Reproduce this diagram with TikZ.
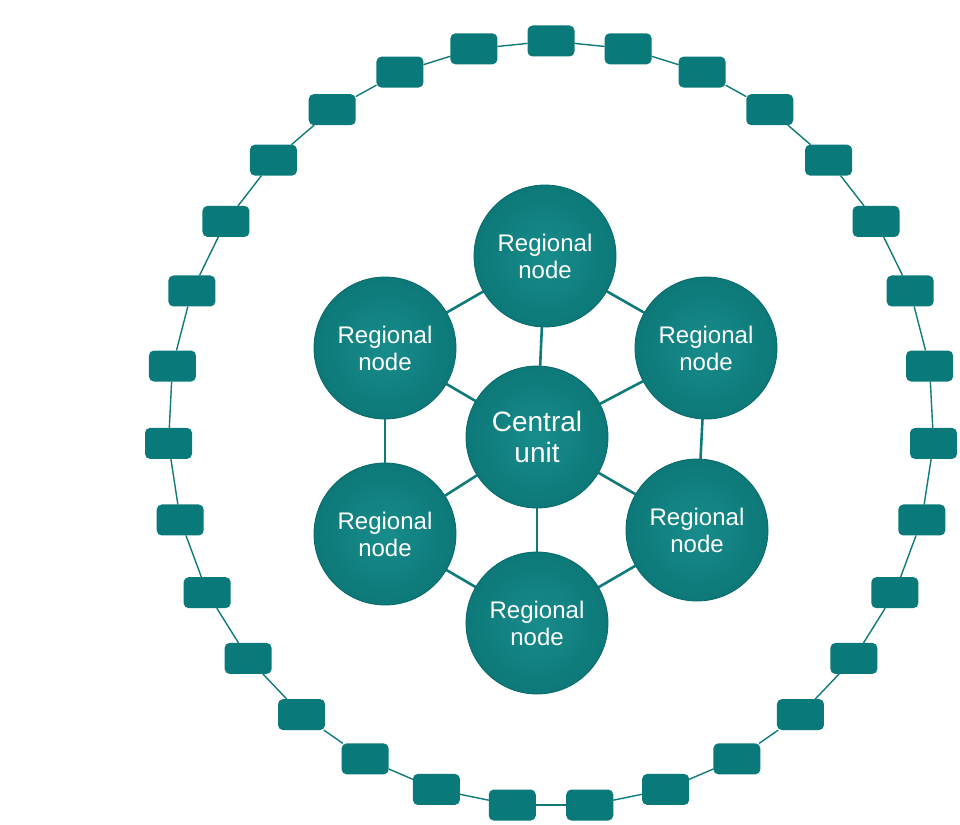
\documentclass[tikz,border=0pt]{standalone}
\usepackage{fontspec}
\setmainfont{Liberation Sans}
\usetikzlibrary{calc}

\definecolor{tealbox}{RGB}{9,121,121}
\definecolor{tealline}{RGB}{14,122,122}
\definecolor{tealin}{RGB}{24,140,140}
\definecolor{tealout}{RGB}{13,120,120}
\definecolor{tealrim}{RGB}{8,104,104}

\begin{document}
\begin{tikzpicture}[x=1pt, y=-1pt, inner sep=0pt, outer sep=0pt,
    hub/.style={circle, minimum size=142pt, inner color=tealin, outer color=tealout,
        draw=tealrim, line width=0.8pt, text=white, align=center,
        font=\fontsize{24}{27}\selectfont},
    relay/.style={rectangle, rounded corners=5pt, minimum width=47pt, minimum height=31pt,
        fill=tealbox},
    link/.style={draw=tealline, line width=2.6pt},
    ring/.style={draw=tealline, line width=1.4pt}]
    \useasboundingbox (0,0) rectangle (960,824);

    % outer ring of relays
    \coordinate (ring_c) at (551,424);
    \foreach \i in {0,...,30}
    {
        \node[relay] (relay_\i) at ($(ring_c) + ({-90 + \i*360/31}:383)$) {};
    }
    \foreach \i [evaluate=\i as \j using {int(mod(\i+1,31))}] in {0,...,30}
    {
        \draw[ring] (relay_\i) -- (relay_\j);
    }

    % central unit
    \node[hub, font=\fontsize{28}{31}\selectfont] (central_unit) at (537,437) {Central\\unit};

    % regional nodes
    \node[hub] (reg_top) at (545,256) {Regional\\node};
    \node[hub] (reg_top_right) at (706,348) {Regional\\node};
    \node[hub] (reg_bot_right) at (697,530) {Regional\\node};
    \node[hub] (reg_bot) at (537,623) {Regional\\node};
    \node[hub] (reg_bot_left) at (385,534) {Regional\\node};
    \node[hub] (reg_top_left) at (385,348) {Regional\\node};

    % spokes
    \draw[link] (central_unit) -- (reg_top);
    \draw[link] (central_unit) -- (reg_top_right);
    \draw[link] (central_unit) -- (reg_bot_right);
    \draw[link] (central_unit) -- (reg_bot);
    \draw[link] (central_unit) -- (reg_bot_left);
    \draw[link] (central_unit) -- (reg_top_left);

    % regional ring
    \draw[link] (reg_top) -- (reg_top_right);
    \draw[link] (reg_top_right) -- (reg_bot_right);
    \draw[link] (reg_bot_right) -- (reg_bot);
    \draw[link] (reg_bot) -- (reg_bot_left);
    \draw[link] (reg_bot_left) -- (reg_top_left);
    \draw[link] (reg_top_left) -- (reg_top);

\end{tikzpicture}
\end{document}
